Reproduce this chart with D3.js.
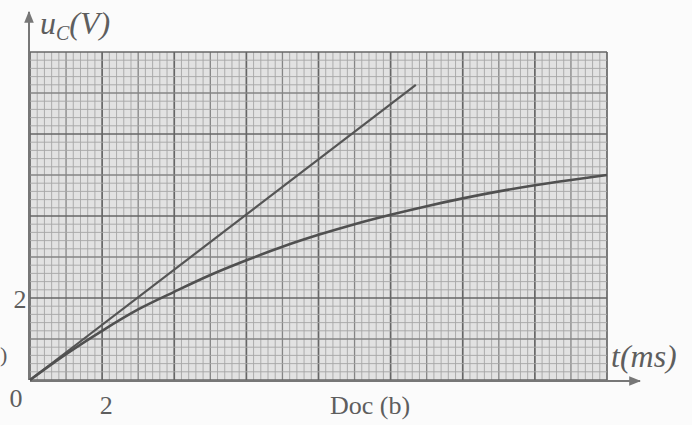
<!DOCTYPE html>
<html>
<head>
<meta charset="utf-8">
<script src="https://cdn.jsdelivr.net/npm/d3@7"></script>
<style>
  body { margin: 0; background: #fbfbfb; }
  svg { display: block; }
  .lbl { font-family: "Liberation Serif", "DejaVu Serif", serif; fill: #5e5e5e; }
</style>
</head>
<body>
<div id="chart"></div>
<script>
// charging curve of the capacitor
var tValues = [0, 1, 2, 3, 4, 5, 6, 7, 8, 9, 10, 11, 12, 13, 14, 15, 16];
var uValues = [0, 0.63, 1.2, 1.72, 2.15, 2.56, 2.92, 3.25, 3.54, 3.8, 4.03, 4.24, 4.43, 4.6, 4.75, 4.88, 5.0];
// tangent at the origin
var tangentT = [0, 10.7];
var tangentU = [0, 7.2];
var xTickLabels = ["0", "2"];
var yTickLabels = ["2"];

var width = 692,
    height = 425;

var svg = d3.select("#chart").append("svg")
    .attr("width", width)
    .attr("height", height);

var x = d3.scaleLinear().domain([0, 16]).range([30, 607]);
var y = d3.scaleLinear().domain([0, 8]).range([380, 52]);

// graph paper
svg.append("rect")
    .attr("x", x(0)).attr("y", y(8))
    .attr("width", x(16) - x(0)).attr("height", y(0) - y(8))
    .attr("fill", "#e2e2e2");

var grid = svg.append("g").attr("class", "grid");

function lineStyle(v) {
    var k = Math.round(v * 5);
    if (k % 10 == 0) return { c: "#666", w: 1.7 };
    if (k % 5 == 0) return { c: "#858585", w: 1.3 };
    return { c: "#a6a6a6", w: 0.9 };
}

d3.range(0, 16.001, 0.2).forEach(function (v) {
    var s = lineStyle(v);
    grid.append("line")
        .attr("x1", x(v)).attr("x2", x(v))
        .attr("y1", y(0)).attr("y2", y(8))
        .attr("stroke", s.c).attr("stroke-width", s.w);
});
d3.range(0, 8.001, 0.2).forEach(function (v) {
    var s = lineStyle(v);
    grid.append("line")
        .attr("x1", x(0)).attr("x2", x(16))
        .attr("y1", y(v)).attr("y2", y(v))
        .attr("stroke", s.c).attr("stroke-width", s.w);
});

// axes with arrows
svg.append("defs").append("marker")
    .attr("id", "arrow")
    .attr("viewBox", "0 -5 10 10")
    .attr("refX", 9)
    .attr("markerWidth", 6)
    .attr("markerHeight", 6)
    .attr("orient", "auto")
    .append("path")
    .attr("d", "M0,-4L10,0L0,4Z")
    .attr("fill", "#777");

svg.append("line")
    .attr("x1", x(0)).attr("y1", y(0) + 1)
    .attr("x2", 640).attr("y2", y(0) + 1)
    .attr("stroke", "#777").attr("stroke-width", 2)
    .attr("marker-end", "url(#arrow)");

svg.append("line")
    .attr("x1", x(0) - 1).attr("y1", y(0))
    .attr("x2", x(0) - 1).attr("y2", 12)
    .attr("stroke", "#777").attr("stroke-width", 2)
    .attr("marker-end", "url(#arrow)");

// curves
var line = d3.line()
    .x(function (d) { return x(d[0]); })
    .y(function (d) { return y(d[1]); });

svg.append("path")
    .datum(d3.zip(tangentT, tangentU))
    .attr("fill", "none")
    .attr("stroke", "#555")
    .attr("stroke-width", 2.2)
    .attr("d", line);

svg.append("path")
    .datum(d3.zip(tValues, uValues))
    .attr("fill", "none")
    .attr("stroke", "#505050")
    .attr("stroke-width", 2.6)
    .attr("d", line.curve(d3.curveMonotoneX));

// labels
var uLabel = svg.append("text")
    .attr("class", "lbl")
    .attr("x", 40).attr("y", 34)
    .style("font-size", "32px")
    .style("font-style", "italic");
uLabel.append("tspan").text("u");
uLabel.append("tspan").attr("dy", 6).style("font-size", "20px").text("C");
uLabel.append("tspan").attr("dy", -6).text("(V)");

svg.append("text")
    .attr("class", "lbl")
    .attr("x", 611).attr("y", 367)
    .style("font-size", "32px")
    .style("font-style", "italic")
    .text("t(ms)");

svg.selectAll("text.xtick")
    .data(xTickLabels)
    .enter().append("text")
    .attr("class", "lbl xtick")
    .attr("x", function (d) { return +d == 0 ? x(0) - 14 : x(+d) + 4; })
    .attr("y", function (d) { return +d == 0 ? 407 : 414; })
    .attr("text-anchor", "middle")
    .style("font-size", "26px")
    .text(function (d) { return d; });

svg.selectAll("text.ytick")
    .data(yTickLabels)
    .enter().append("text")
    .attr("class", "lbl ytick")
    .attr("x", x(0) - 10)
    .attr("y", function (d) { return y(+d) + 10; })
    .attr("text-anchor", "middle")
    .style("font-size", "26px")
    .text(function (d) { return d; });

svg.append("text")
    .attr("class", "lbl")
    .attr("x", 370).attr("y", 414)
    .attr("text-anchor", "middle")
    .style("font-size", "26px")
    .text("Doc (b)");

svg.append("text")
    .attr("class", "lbl")
    .attr("x", 0).attr("y", 362)
    .style("font-size", "22px")
    .text(")");
</script>
</body>
</html>
